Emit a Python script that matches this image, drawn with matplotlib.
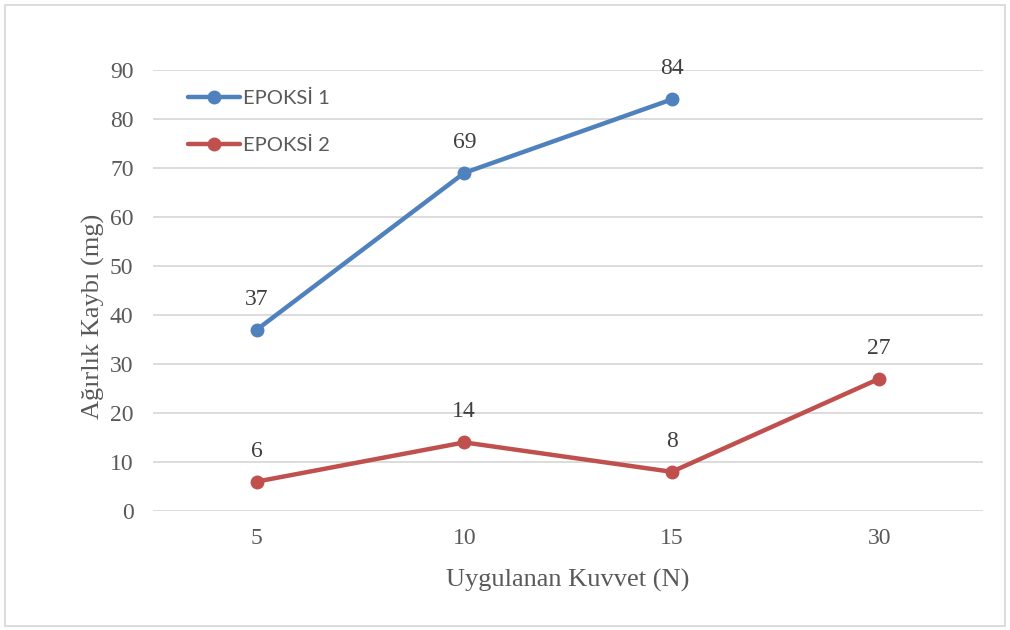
import matplotlib
matplotlib.use("Agg")
import matplotlib.pyplot as plt
from matplotlib.patches import Rectangle

# Data
categories = ["5", "10", "15", "30"]
epoksi1 = [37, 69, 84]
epoksi2 = [6, 14, 8, 27]
series_names = ["EPOKSİ 1", "EPOKSİ 2"]
y_ticks = [0, 10, 20, 30, 40, 50, 60, 70, 80, 90]

blue = "#4F81BD"
red = "#C0504D"
grid_c = "#D9D9D9"
text_c = "#595959"
serif = "Liberation Serif"

fig = plt.figure(figsize=(10.1, 6.3), dpi=100)
ax = fig.add_axes([153 / 1010, 1 - 511 / 630, 830 / 1010, 441 / 630])

# Outer chart frame
fig.patches.append(Rectangle((5 / 1010, 4 / 630), 1000 / 1010, 621 / 630,
                             transform=fig.transFigure, fill=False,
                             edgecolor=grid_c, linewidth=1.3))

x_all = list(range(len(categories)))
l1, = ax.plot(x_all[:len(epoksi1)], epoksi1, color=blue, lw=3.2, marker="o",
              ms=9, solid_capstyle="round", label=series_names[0], zorder=3)
l2, = ax.plot(x_all[:len(epoksi2)], epoksi2, color=red, lw=3.2, marker="o",
              ms=9, solid_capstyle="round", label=series_names[1], zorder=3)

# Value labels above each point
for xs, ys in ((x_all, epoksi1), (x_all, epoksi2)):
    for xi, yi in zip(xs, ys):
        ax.annotate(str(yi), (xi, yi), xytext=(0, 22), textcoords="offset points",
                    ha="center", va="center", fontsize=17, family=serif,
                    color="#404040")

ax.set_xlim(-0.5, len(categories) - 0.5)
ax.set_ylim(0, 90)
ax.set_yticks(y_ticks)
ax.set_xticks(x_all)
ax.set_xticklabels(categories)
ax.yaxis.grid(True, color=grid_c, lw=1.3)
ax.set_axisbelow(True)
for s in ax.spines.values():
    s.set_visible(False)
ax.tick_params(axis="both", length=0, labelsize=17, labelcolor=text_c)
ax.tick_params(axis="y", pad=14)
ax.tick_params(axis="x", pad=12)
for lab in ax.get_xticklabels() + ax.get_yticklabels():
    lab.set_family(serif)

ax.set_xlabel("Uygulanan Kuvvet (N)", family=serif, fontsize=19, color=text_c, va="center")
ax.xaxis.set_label_coords(0.5, (511 - 580) / 441)
ax.set_ylabel("Ağırlık Kaybı (mg)", family=serif, fontsize=19, color=text_c, va="center")
ax.yaxis.set_label_coords((93 - 153) / 830, (511 - 316) / 441)

leg = ax.legend(handles=[l1, l2], loc="upper left", bbox_to_anchor=(0.02, 0.995),
                frameon=False, prop={"family": "Lato", "size": 14.5},
                labelcolor=text_c, handlelength=2.6, handletextpad=0.15,
                labelspacing=1.45)

fig.savefig("out.png", dpi=100)
